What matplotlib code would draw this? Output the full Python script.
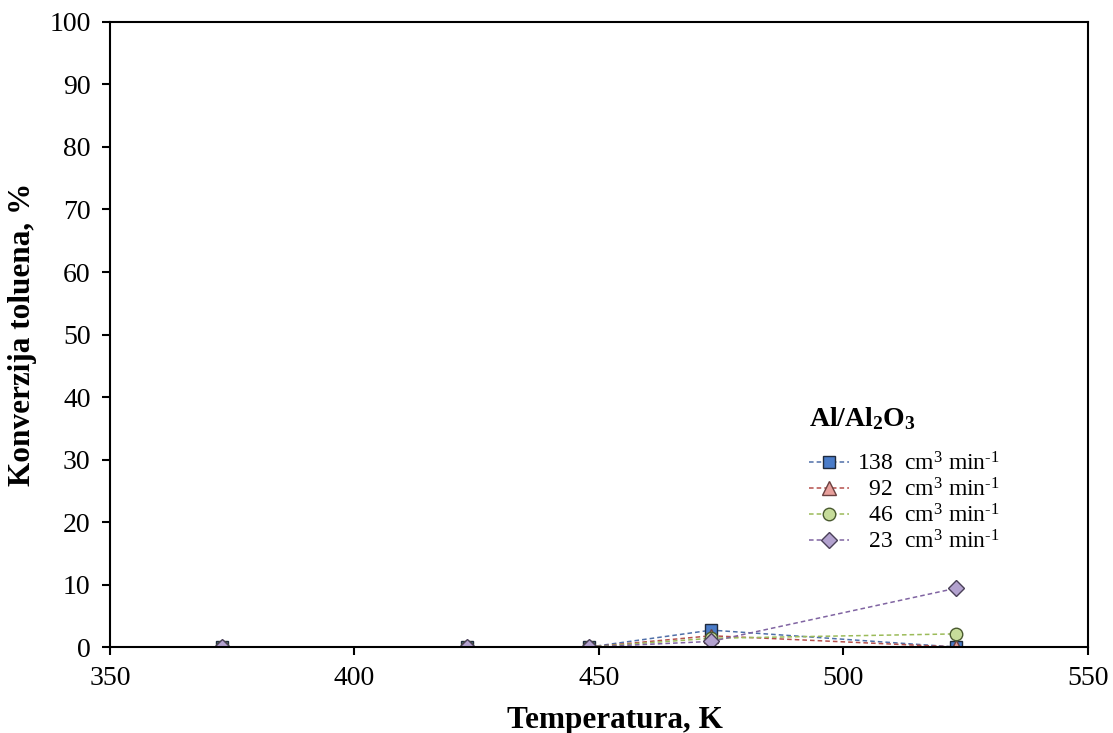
import matplotlib
matplotlib.use('Agg')
import matplotlib.pyplot as plt

plt.rcParams['font.family'] = ['Liberation Serif', 'DejaVu Serif']
plt.rcParams['mathtext.fontset'] = 'custom'
plt.rcParams['mathtext.rm'] = 'Liberation Serif'
plt.rcParams['mathtext.it'] = 'Liberation Serif:italic'
plt.rcParams['mathtext.bf'] = 'Liberation Serif:bold'

# data
temperature = [373, 423, 448, 473, 523]
conv_138 = [0, 0, 0, 2.7, 0]
conv_92 = [0, 0, 0, 1.8, 0]
conv_46 = [0, 0, 0, 1.4, 2.1]
conv_23 = [0, 0, 0, 0.9, 9.4]

unit = r'  cm$^3$ min$^{\text{-}1}$'
labels = ['138' + unit, '  92' + unit, '  46' + unit, '  23' + unit]

fig = plt.figure(figsize=(11.13, 7.33), dpi=100)
ax = fig.add_axes([0.0988, 0.1173, 0.8787, 0.8527])

ax.plot(temperature, conv_138, ls=(0, (3, 2)), lw=1.1, color='#4F6FA8',
        marker='s', ms=9, mfc='#4A7CC9', mec='#1F2A3C', mew=1, label=labels[0])
ax.plot(temperature, conv_92, ls=(0, (3, 2)), lw=1.1, color='#B5504C',
        marker='^', ms=10, mfc='#E8A09C', mec='#6B4040', mew=1, label=labels[1])
ax.plot(temperature, conv_46, ls=(0, (3, 2)), lw=1.1, color='#9BBB59',
        marker='o', ms=9, mfc='#C6DC9A', mec='#4A5A30', mew=1, label=labels[2])
ax.plot(temperature, conv_23, ls=(0, (3, 2)), lw=1.1, color='#8064A2',
        marker='D', ms=8, mfc='#B3A2CF', mec='#4A4058', mew=1, label=labels[3])

ax.set_xlim(350, 550)
ax.set_ylim(0, 100)
ax.set_xticks(range(350, 551, 50))
ax.set_yticks(range(0, 101, 10))
ax.tick_params(labelsize=20, direction='out', length=6, width=1.5, pad=8)
for s in ax.spines.values():
    s.set_linewidth(1.5)

ax.set_xlabel('Temperatura, K', fontsize=22.5, fontweight='bold')
ax.set_ylabel('Konverzija toluena, %', fontsize=22.5, fontweight='bold')
ax.xaxis.set_label_coords(0.516, -0.094)
ax.yaxis.set_label_coords(-0.075, 0.5)

leg = ax.legend(title=r'$\mathbf{Al/Al_2O_3}$', loc='upper left',
                bbox_to_anchor=(0.703, 0.405), frameon=False, fontsize=17,
                title_fontsize=20, handlelength=1.7, handletextpad=0.3,
                labelspacing=0.12, borderpad=0)
leg._legend_box.align = 'left'
leg._legend_box.sep = 14

fig.savefig('out.png', dpi=100)
